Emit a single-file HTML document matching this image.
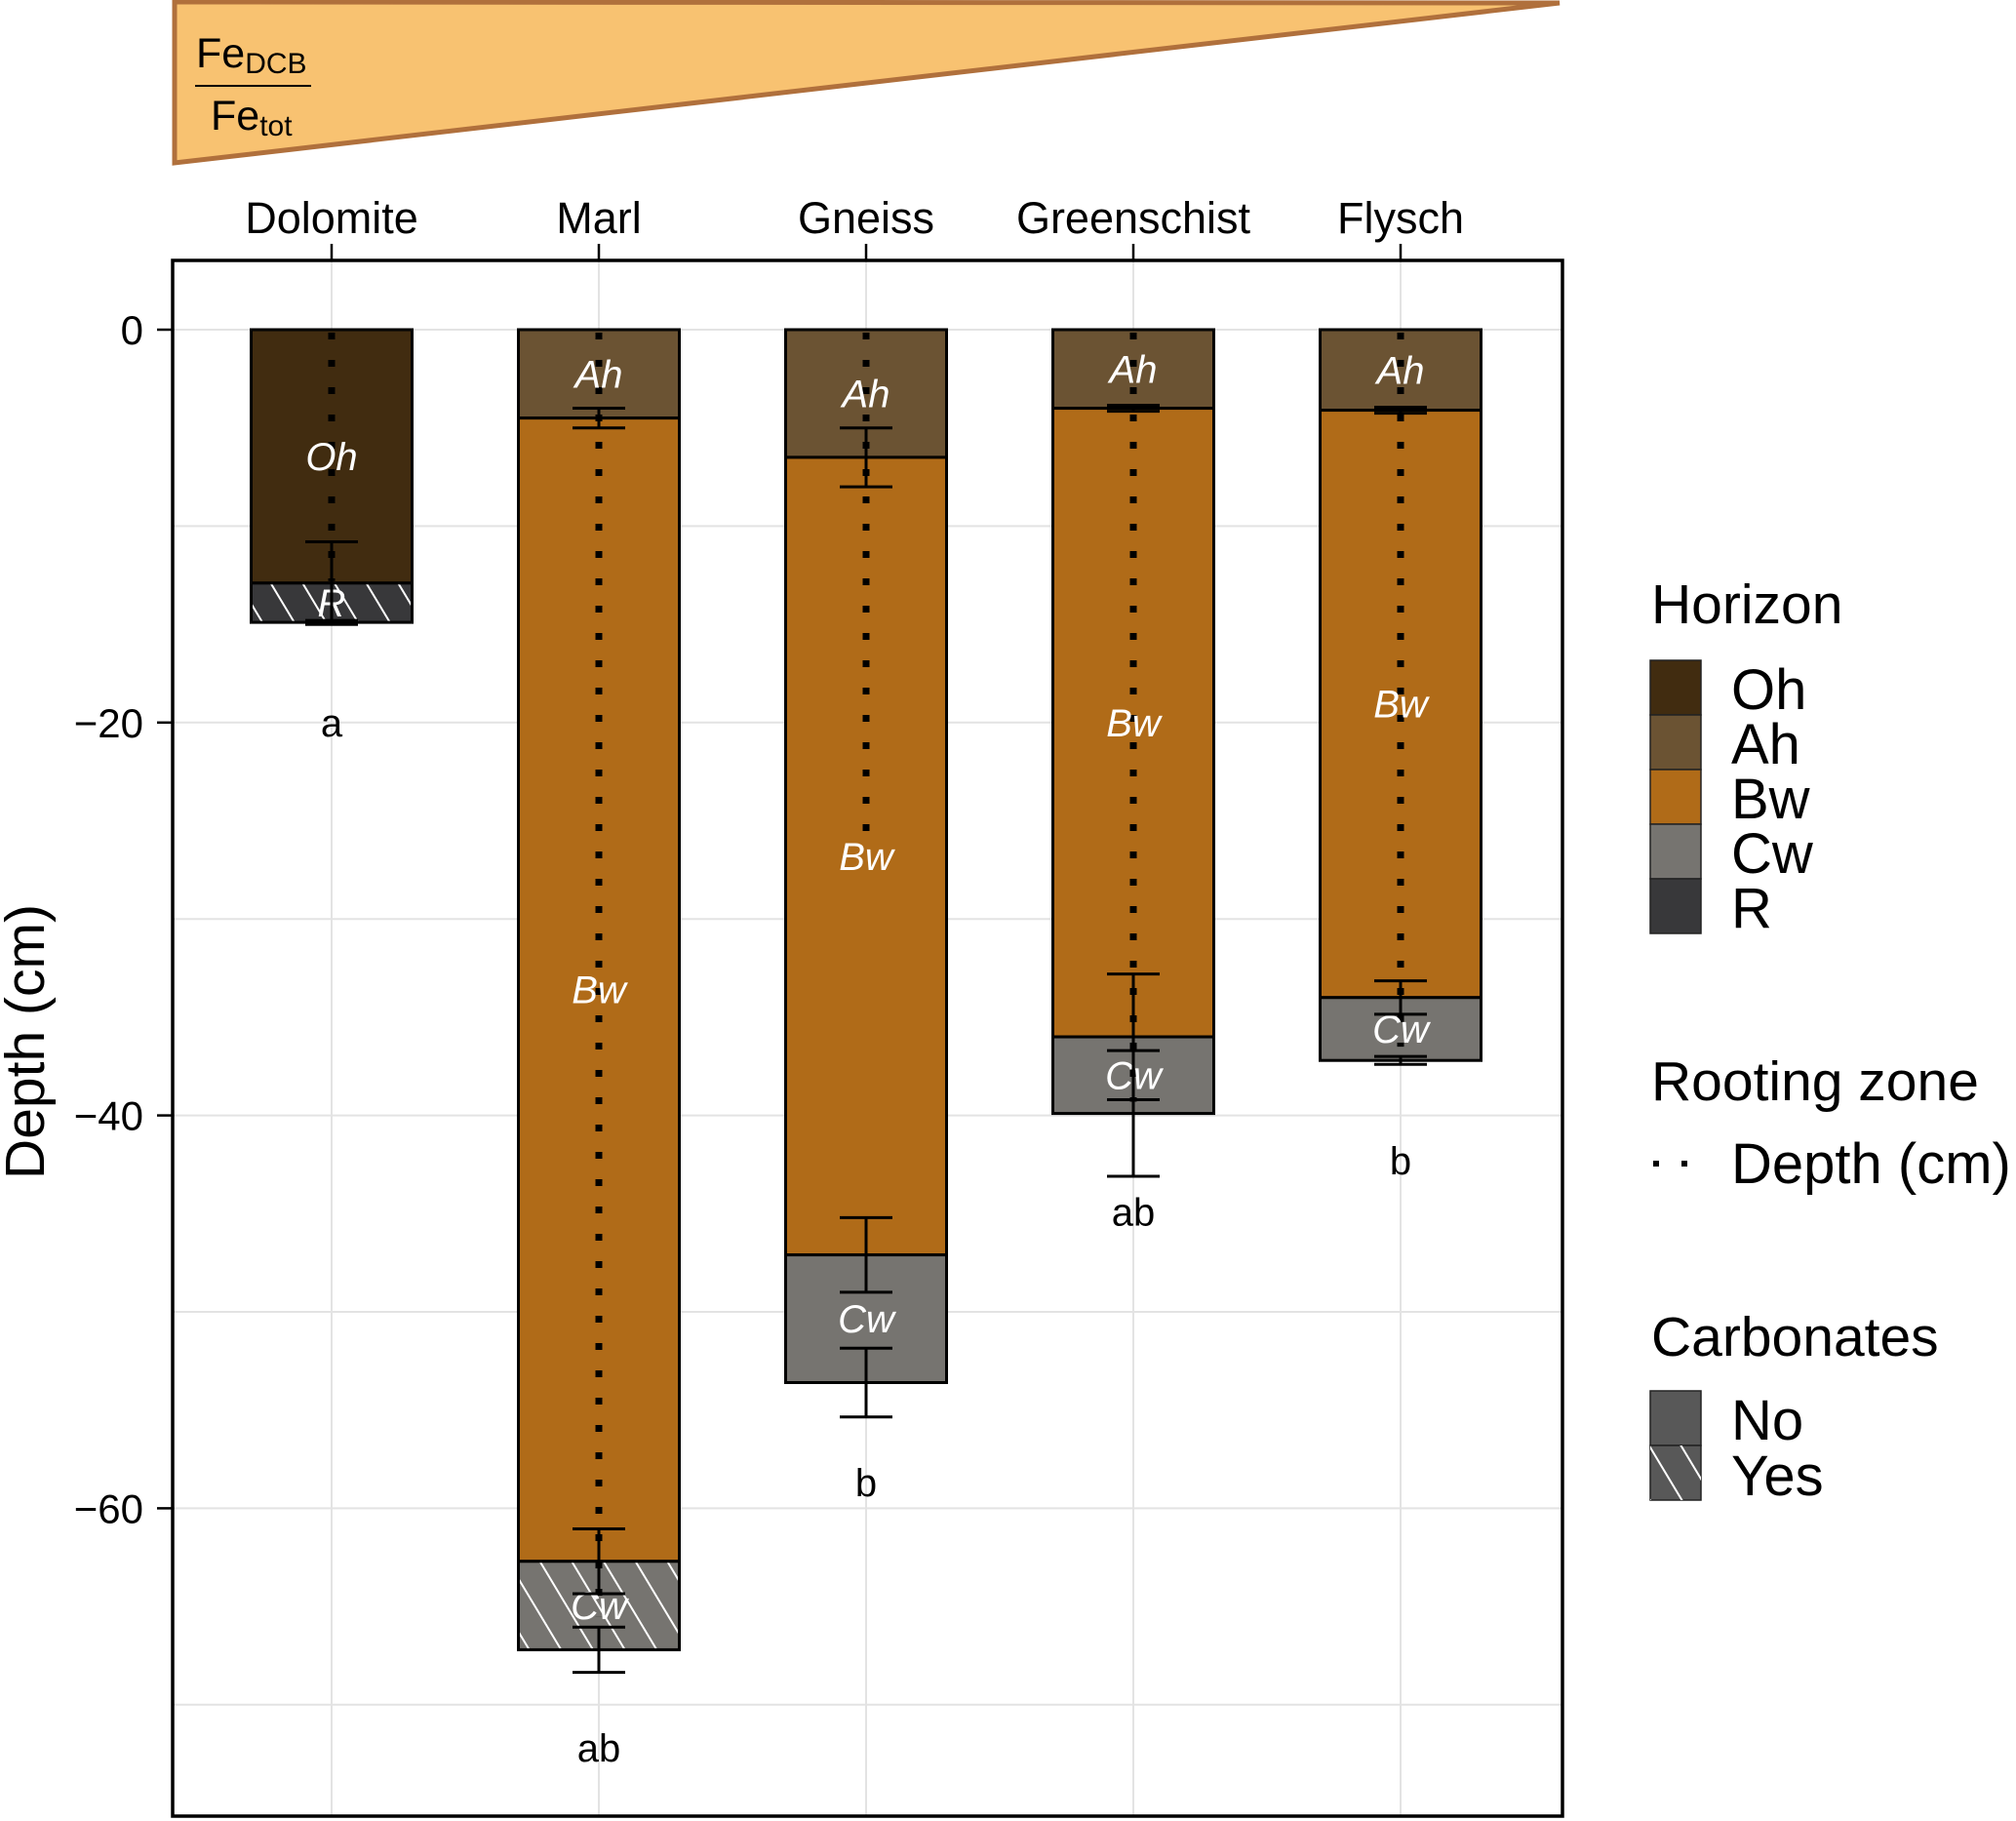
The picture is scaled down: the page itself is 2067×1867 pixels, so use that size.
<!DOCTYPE html>
<html><head><meta charset="utf-8"><style>
html,body{margin:0;padding:0;background:#fff}
svg{display:block;font-family:"Liberation Sans",sans-serif}
</style></head><body>
<svg id="chart" width="2067" height="1867" viewBox="0 0 2067 1867" xmlns="http://www.w3.org/2000/svg">
<defs>
<pattern id="hatch" patternUnits="userSpaceOnUse" width="28" height="28" patternTransform="rotate(-31)">
<line x1="14" y1="0" x2="14" y2="28" stroke="#fff" stroke-width="2"/>
</pattern>
</defs>
<g>
<polygon points="179,2 1599,3 179,167" fill="#f8c271" stroke="#b0703c" stroke-width="5" stroke-linejoin="miter"/>
<text x="201" y="69" font-size="43">Fe<tspan font-size="30" dy="6">DCB</tspan></text>
<line x1="200" y1="88" x2="319" y2="88" stroke="#000" stroke-width="2"/>
<text x="216" y="133" font-size="43">Fe<tspan font-size="30" dy="6">tot</tspan></text>
</g>
<g id="grid"></g>
<g id="bars"></g>
<g id="axes"></g>
<rect x="177" y="267" width="1425" height="1595" fill="none" stroke="#000" stroke-width="3.5"/>
<text transform="translate(45,1068) rotate(-90)" text-anchor="middle" font-size="57">Depth (cm)</text>
<g>
<text x="1693" y="639" font-size="57">Horizon</text>
<rect x="1692" y="677" width="52" height="56" fill="#412c10" stroke="#222" stroke-width="1.5"/>
<rect x="1692" y="733" width="52" height="56" fill="#6b5333" stroke="#222" stroke-width="1.5"/>
<rect x="1692" y="789" width="52" height="56" fill="#b06b18" stroke="#222" stroke-width="1.5"/>
<rect x="1692" y="845" width="52" height="56" fill="#767470" stroke="#222" stroke-width="1.5"/>
<rect x="1692" y="901" width="52" height="56" fill="#38383a" stroke="#222" stroke-width="1.5"/>
<text x="1775" y="727" font-size="58">Oh</text>
<text x="1775" y="783" font-size="58">Ah</text>
<text x="1775" y="839" font-size="58">Bw</text>
<text x="1775" y="895" font-size="58">Cw</text>
<text x="1775" y="951" font-size="58">R</text>
</g>
<g>
<text x="1693" y="1128" font-size="57">Rooting zone</text>
<rect x="1695" y="1190" width="6" height="6" fill="#000"/>
<rect x="1724" y="1190" width="6" height="6" fill="#000"/>
<text x="1775" y="1213" font-size="58">Depth (cm)</text>
</g>
<g>
<text x="1693" y="1390" font-size="57">Carbonates</text>
<rect x="1692" y="1426" width="52" height="56" fill="#585858" stroke="#222" stroke-width="1.5"/>
<rect x="1692" y="1482" width="52" height="56" fill="#585858" stroke="#222" stroke-width="1.5"/>
<rect x="1692" y="1482" width="52" height="56" fill="url(#hatch)"/>
<text x="1775" y="1476" font-size="58">No</text>
<text x="1775" y="1533" font-size="58">Yes</text>
</g>
</svg>
<script>
const sites = ['Dolomite','Marl','Gneiss','Greenschist','Flysch'];
const horizonNames = [['Oh','R'],['Ah','Bw','Cw'],['Ah','Bw','Cw'],['Ah','Bw','Cw'],['Ah','Bw','Cw']];
const horizonBottoms = [[-12.9,-14.9],[-4.5,-62.7,-67.2],[-6.5,-47.1,-53.6],[-4.0,-36.0,-39.9],[-4.1,-34.0,-37.2]];
const horizonSD = [[2.1,0.1],[0.5,1.65,1.15],[1.5,1.9,1.75],[0.15,3.2,3.2],[0.15,0.85,0.2]];
const carbonates = [[false,true],[false,false,true],[false,false,false],[false,false,false],[false,false,false]];
const rootDepth = [-12.8,-65.5,-26.4,-39.3,-36.5];
const groupLetters = ['a','ab','b','ab','b'];
const letterDepth = [-20,-72.2,-58.7,-44.9,-42.3];
const yTicks = [0,-20,-40,-60];
const yTickLabels = ['0','\u221220','\u221240','\u221260'];
const yGrid = [0,-10,-20,-30,-40,-50,-60,-70];

const colors = {Oh:'#412c10',Ah:'#6b5333',Bw:'#b06b18',Cw:'#767470',R:'#38383a'};
const NS='http://www.w3.org/2000/svg';
const X0=340, XSTEP=274, Y0=338, YS=20.14, BW=165, CAP=54;
const xs = i => X0 + i*XSTEP;
const ys = v => Y0 - v*YS;
function mk(tag, attrs, parent){const e=document.createElementNS(NS,tag);for(const k in attrs)e.setAttribute(k,attrs[k]);parent.appendChild(e);return e;}
const grid=document.getElementById('grid'), bars=document.getElementById('bars'), axes=document.getElementById('axes');

yGrid.forEach(v=>{const l=mk('line',{x1:178,x2:1601,y1:ys(v),y2:ys(v),stroke:'#e3e3e3','stroke-width':2},grid);

});
sites.forEach((s,i)=>{const l=mk('line',{x1:xs(i),x2:xs(i),y1:268,y2:1861,stroke:'#e3e3e3','stroke-width':2},grid);

});

yTicks.forEach((v,k)=>{
  const t=mk('line',{x1:161,x2:177,y1:ys(v),y2:ys(v),stroke:'#000','stroke-width':2.5},axes);
  
  
  const tx=mk('text',{x:147,y:ys(v)+15,'text-anchor':'end','font-size':42},axes);
  tx.textContent=yTickLabels[k];
  
  
});
sites.forEach((s,i)=>{
  const t=mk('line',{x1:xs(i),x2:xs(i),y1:250,y2:267,stroke:'#000','stroke-width':2.5},axes);
  
  
  const tx=mk('text',{x:xs(i),y:239,'text-anchor':'middle','font-size':45},axes);
  tx.textContent=s;
  
  
});

sites.forEach((s,i)=>{
  const g=mk('g',{},bars);
  
  
  let top=0;
  const x=xs(i);
  horizonBottoms[i].forEach((b,j)=>{
    const h=horizonNames[i][j];
    const r=mk('rect',{x:x-BW/2,y:ys(top),width:BW,height:ys(b)-ys(top),fill:colors[h],stroke:'#000','stroke-width':3},g);
    
    
    if(carbonates[i][j]){
      const hr=mk('rect',{x:x-BW/2+1.5,y:ys(top)+1.5,width:BW-3,height:ys(b)-ys(top)-3,fill:'url(#hatch)'},g);
      
      
    }
    top=b;
  });
  const d=mk('line',{x1:x,x2:x,y1:ys(0)+3,y2:ys(rootDepth[i]),stroke:'#000','stroke-width':7,'stroke-dasharray':'7 21'},g);
  
  
  top=0;
  horizonBottoms[i].forEach((b,j)=>{
    const t=mk('text',{x:x,y:(ys(top)+ys(b))/2+14,'text-anchor':'middle','font-size':40,'font-style':'italic',fill:'#fff'},g);
    t.textContent=horizonNames[i][j];
    
    
    top=b;
  });
  horizonBottoms[i].forEach((b,j)=>{
    const sd=horizonSD[i][j];
    const eg=mk('g',{stroke:'#000','stroke-width':3},g);
    
    
    mk('line',{x1:x,x2:x,y1:ys(b+sd),y2:ys(b-sd)},eg);
    mk('line',{x1:x-CAP/2,x2:x+CAP/2,y1:ys(b+sd),y2:ys(b+sd)},eg);
    mk('line',{x1:x-CAP/2,x2:x+CAP/2,y1:ys(b-sd),y2:ys(b-sd)},eg);
  });
  const lt=mk('text',{x:x,y:ys(letterDepth[i])+14,'text-anchor':'middle','font-size':40},g);
  lt.textContent=groupLetters[i];
  
  
});
</script>
</body></html>
